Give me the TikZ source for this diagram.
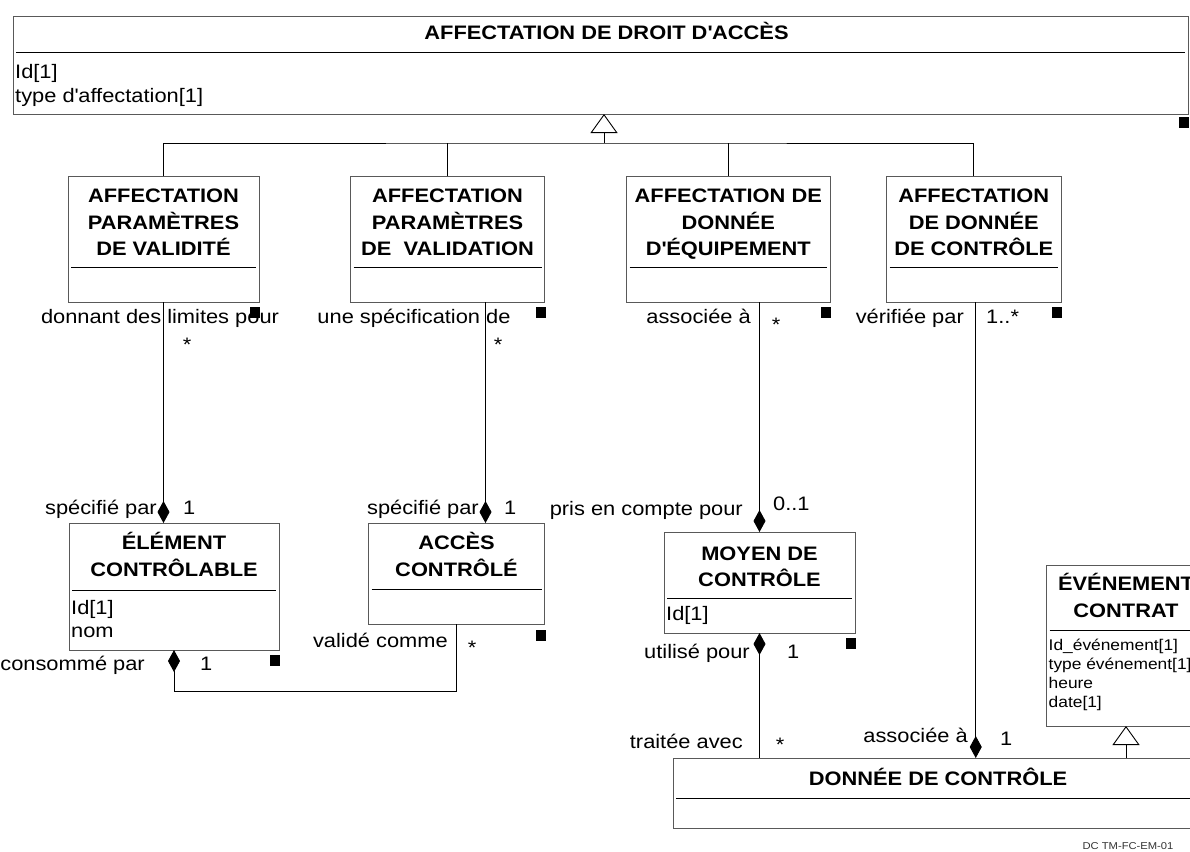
\documentclass[tikz,border=0pt]{standalone}
\usepackage{fontspec}
\setmainfont{Liberation Sans}[FakeStretch=1.12]
\usetikzlibrary{arrows.meta}
\newcommand{\clsfont}{\fontsize{19.5}{26.5}\selectfont\bfseries}
\newcommand{\rolefont}{\fontsize{19.5}{23.5}\selectfont}
\newcommand{\smallattr}{\fontsize{15.5}{19}\selectfont}
\tikzstyle{classbox} = [rectangle, draw=black!65, line width=0.9pt, inner sep=0pt, outer sep=0pt, anchor=north west]
\tikzstyle{classname} = [font=\clsfont, align=center, inner sep=0pt, anchor=base]
\tikzstyle{attr} = [font=\rolefont, align=left, inner sep=0pt, anchor=base west]
\tikzstyle{role} = [font=\rolefont, inner sep=0pt]
\tikzstyle{divider} = [line width=0.9pt]
\tikzstyle{link} = [line width=0.9pt]
\tikzstyle{comp} = [line width=0.9pt, -{Diamond[length=22pt,width=12pt]}]
\tikzstyle{inh} = [line width=0.9pt, -{Triangle[open,length=19pt,width=27pt]}]
\begin{document}
\begin{tikzpicture}[x=1pt, y=-1pt]
\useasboundingbox (0,0) rectangle (1190,851);
\clip (0,0) rectangle (1190,851);
% classes (base anchor of a multi-line text = its last line)
\node (droit) [classbox, minimum width=1175pt, minimum height=98pt] at (13,16) {};
\node (droitname) [classname] at ([xshift=6pt,yshift=-24pt]droit.north) {AFFECTATION DE DROIT D\textquotesingle ACCÈS};
\draw[divider] ([xshift=3pt,yshift=-36pt]droit.north west) -- ([xshift=-3pt,yshift=-36pt]droit.north east);
\node (droitattr) [attr] at ([xshift=2pt,yshift=-86pt]droit.north west) {Id[1]\\type d\textquotesingle affectation[1]};

\node (valid) [classbox, minimum width=191pt, minimum height=126pt] at (68,176) {};
\node (validname) [classname] at ([yshift=-79.5pt]valid.north) {AFFECTATION\\PARAMÈTRES\\DE VALIDITÉ};
\draw[divider] ([xshift=3pt,yshift=-91.5pt]valid.north west) -- ([xshift=-3pt,yshift=-91.5pt]valid.north east);

\node (validation) [classbox, minimum width=194pt, minimum height=126pt] at (350.5,176) {};
\node (validationname) [classname] at ([yshift=-79.5pt]validation.north) {AFFECTATION\\PARAMÈTRES\\DE~~VALIDATION};
\draw[divider] ([xshift=3pt,yshift=-91.5pt]validation.north west) -- ([xshift=-3pt,yshift=-91.5pt]validation.north east);

\node (equip) [classbox, minimum width=203.5pt, minimum height=126pt] at (626.5,176) {};
\node (equipname) [classname] at ([yshift=-79.5pt]equip.north) {AFFECTATION DE\\DONNÉE\\D\textquotesingle ÉQUIPEMENT};
\draw[divider] ([xshift=3pt,yshift=-91.5pt]equip.north west) -- ([xshift=-3pt,yshift=-91.5pt]equip.north east);

\node (ctrl) [classbox, minimum width=174.5pt, minimum height=126pt] at (886.5,176) {};
\node (ctrlname) [classname] at ([yshift=-79.5pt]ctrl.north) {AFFECTATION\\DE DONNÉE\\DE CONTRÔLE};
\draw[divider] ([xshift=3pt,yshift=-91.5pt]ctrl.north west) -- ([xshift=-3pt,yshift=-91.5pt]ctrl.north east);

\node (elem) [classbox, minimum width=210pt, minimum height=127pt] at (69,523) {};
\node (elemname) [classname] at ([yshift=-53pt]elem.north) {ÉLÉMENT\\CONTRÔLABLE};
\draw[divider] ([xshift=3pt,yshift=-67pt]elem.north west) -- ([xshift=-3pt,yshift=-67pt]elem.north east);
\node (elemattr) [attr] at ([xshift=2pt,yshift=-114.5pt]elem.north west) {Id[1]\\nom};

\node (acces) [classbox, minimum width=176pt, minimum height=101pt] at (368.5,523) {};
\node (accesname) [classname] at ([yshift=-53pt]acces.north) {ACCÈS\\CONTRÔLÉ};
\draw[divider] ([xshift=3pt,yshift=-66pt]acces.north west) -- ([xshift=-3pt,yshift=-66pt]acces.north east);

\node (moyen) [classbox, minimum width=191pt, minimum height=101pt] at (664,532) {};
\node (moyenname) [classname] at ([yshift=-54.5pt]moyen.north) {MOYEN DE\\CONTRÔLE};
\draw[divider] ([xshift=3pt,yshift=-66pt]moyen.north west) -- ([xshift=-3pt,yshift=-66pt]moyen.north east);
\node (moyenattr) [attr] at ([xshift=2pt,yshift=-88pt]moyen.north west) {Id[1]};

\node (donnee) [classbox, minimum width=530pt, minimum height=70pt] at (673,758) {};
\node (donneename) [classname] at ([yshift=-27pt]donnee.north) {DONNÉE DE CONTRÔLE};
\draw[divider] ([xshift=3pt,yshift=-40pt]donnee.north west) -- ([xshift=-3pt,yshift=-40pt]donnee.north east);

\node (event) [classbox, minimum width=159pt, minimum height=161pt] at (1046.5,565) {};
\node (eventname) [classname] at ([yshift=-52pt]event.north) {ÉVÉNEMENT\\CONTRAT};
\draw[divider] ([xshift=3pt,yshift=-65pt]event.north west) -- ([xshift=-3pt,yshift=-65pt]event.north east);
\node (eventattr) [attr, font=\smallattr] at ([xshift=2pt,yshift=-142pt]event.north west) {Id\_événement[1]\\type événement[1]\\heure\\date[1]};

% corner marks
\fill ([xshift=-9pt,yshift=-3pt]droit.south east) rectangle ++(10,11);
\fill ([xshift=-9pt,yshift=-5pt]valid.south east) rectangle ++(10,10.5);
\fill ([xshift=-9pt,yshift=-5pt]validation.south east) rectangle ++(10,10.5);
\fill ([xshift=-9pt,yshift=-5pt]equip.south east) rectangle ++(10,10.5);
\fill ([xshift=-9pt,yshift=-5pt]ctrl.south east) rectangle ++(10,10.5);
\fill ([xshift=-9pt,yshift=-5pt]elem.south east) rectangle ++(10,10.5);
\fill ([xshift=-9pt,yshift=-6pt]acces.south east) rectangle ++(10,10.5);
\fill ([xshift=-9pt,yshift=-5pt]moyen.south east) rectangle ++(10,10.5);

% generalisation
\coordinate (gen) at (604,143);
\draw[inh] (gen) -- (gen |- droit.south);
\draw[link] (valid.north) |- (gen) -| (ctrl.north);
\draw[link] (validation.north) -- (validation.north |- gen);
\draw[link] (equip.north) -- (equip.north |- gen);
\draw[inh] (donnee.north -| event.south) -- (event.south);

% compositions
\draw[comp] (valid.south) -- (valid.south |- elem.north);
\draw[comp] ([xshift=38pt]validation.south) -- ([xshift=38pt]validation.south |- acces.north);
\draw[comp] (equip.south -| moyen.north) -- (moyen.north);
\draw[comp] ([xshift=2pt]ctrl.south) -- ([xshift=2pt]ctrl.south |- donnee.north);
\draw[comp] (acces.south) -- ++(0,67) -| (elem.south);
\draw[comp] (moyen.south |- donnee.north) -- (moyen.south);

% role names and multiplicities
\node (r1) [role, anchor=base] at (160,323) {donnant des limites pour};
\node (m1) [role, anchor=base] at (187,351) {*};
\node (r2) [role, anchor=base] at (414,323) {une spécification de};
\node (m2) [role, anchor=base] at (498,351) {*};
\node (r3) [role, anchor=base east] at (751,323) {associée à};
\node (m3) [role, anchor=base] at (776,331) {*};
\node (r4) [role, anchor=base east] at (964,323) {vérifiée par};
\node (m4) [role, anchor=base west] at (986,323) {1..*};
\node (r5) [role, anchor=base east] at (157,514) {spécifié par};
\node (m5) [role, anchor=base west] at (183,514) {1};
\node (r6) [role, anchor=base east] at (479,514) {spécifié par};
\node (m6) [role, anchor=base west] at (504,514) {1};
\node (r7) [role, anchor=base east] at (743,515) {pris en compte pour};
\node (m7) [role, anchor=base west] at (773,510) {0..1};
\node (r8) [role, anchor=base east] at (145,670) {consommé par};
\node (m8) [role, anchor=base west] at (200,670) {1};
\node (r9) [role, anchor=base east] at (448,647) {validé comme};
\node (m9) [role, anchor=base] at (472,654) {*};
\node (r10) [role, anchor=base east] at (750,658) {utilisé pour};
\node (m10) [role, anchor=base west] at (787,658) {1};
\node (r11) [role, anchor=base east] at (743,748) {traitée avec};
\node (m11) [role, anchor=base] at (780,751) {*};
\node (r12) [role, anchor=base east] at (968,742) {associée à};
\node (m12) [role, anchor=base west] at (1000,745) {1};
\node (docref) [font=\fontsize{10}{11}\selectfont, text=black!80, anchor=base] at (1128,849) {DC TM-FC-EM-01};
\end{tikzpicture}
\end{document}
